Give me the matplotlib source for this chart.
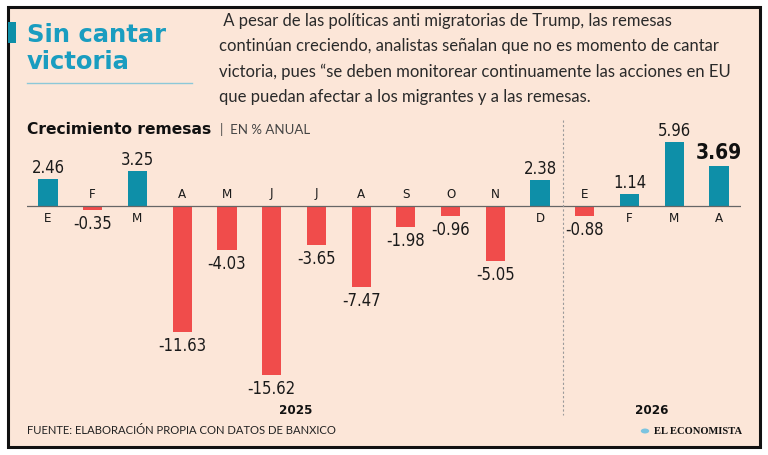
import matplotlib
matplotlib.use("Agg")
import matplotlib.pyplot as plt
from matplotlib.patches import Rectangle
from matplotlib.lines import Line2D
from matplotlib import font_manager

months = ["E", "F", "M", "A", "M", "J", "J", "A", "S", "O", "N", "D",
          "E", "F", "M", "A"]
values = [2.46, -0.35, 3.25, -11.63, -4.03, -15.62, -3.65, -7.47, -1.98,
          -0.96, -5.05, 2.38, -0.88, 1.14, 5.96, 3.69]
years = ["2025", "2026"]

W, H = 768, 455
BG = "#FCE6D8"
TEAL = "#0E8FA8"
RED = "#F04C4B"
TITLE = "#1A9DC0"

# pick a condensed font if one is installed
_narrow_file = None
_narrow_bold_file = None
for f in font_manager.fontManager.ttflist:
    nm = (f.name + " " + f.fname).lower()
    if ("condensed" in nm or "narrow" in nm) and "oblique" not in nm \
            and "italic" not in nm:
        if f.weight in (700, "bold") or "bold" in f.fname.lower():
            if _narrow_bold_file is None:
                _narrow_bold_file = f.fname
        elif _narrow_file is None:
            _narrow_file = f.fname
if _narrow_file:
    NP = font_manager.FontProperties(fname=_narrow_file)
else:
    NP = font_manager.FontProperties(family="DejaVu Sans")
if _narrow_bold_file:
    NPB = font_manager.FontProperties(fname=_narrow_bold_file)
else:
    NPB = font_manager.FontProperties(family="DejaVu Sans", weight="bold")

fig = plt.figure(figsize=(W / 100, H / 100), dpi=100)
fig.patch.set_facecolor("white")


def fx(px):
    return px / W


def fy(py):
    return 1 - py / H


def np_(size, bold=False):
    p = (NPB if bold else NP).copy()
    p.set_size(size)
    return p


# background box
fig.patches.append(Rectangle((fx(8), fy(447)), fx(752), 440 / H,
                             transform=fig.transFigure, facecolor=BG,
                             edgecolor="#111111", linewidth=2.2, zorder=-5))

# title marker + title
fig.patches.append(Rectangle((fx(8), fy(43)), fx(8), 21 / H,
                             transform=fig.transFigure, facecolor=TEAL,
                             edgecolor="none", zorder=1))
fig.text(fx(27), fy(35), "Sin cantar", fontsize=17.5, fontweight="bold",
         color=TITLE, family="DejaVu Sans", va="center", ha="left")
fig.text(fx(27), fy(62), "victoria", fontsize=17.5, fontweight="bold",
         color=TITLE, family="DejaVu Sans", va="center", ha="left")
fig.lines.append(Line2D([fx(27), fx(192)], [fy(83), fy(83)],
                        transform=fig.transFigure, color="#8CC8D8", lw=1))

para = [" A pesar de las políticas anti migratorias de Trump, las remesas",
        "continúan creciendo, analistas señalan que no es momento de cantar",
        "victoria, pues “se deben monitorear continuamente las acciones en EU",
        "que puedan afectar a los migrantes y a las remesas."]
for i, line in enumerate(para):
    fig.text(fx(219), fy(21 + i * 25.3), line, fontsize=12,
             color="#2a2a2a", family="Lato",
             va="center", ha="left")

fig.text(fx(27), fy(130), "Crecimiento remesas", fontsize=11.2,
         fontweight="bold", color="#111111", family="DejaVu Sans",
         va="center", ha="left")
fig.text(fx(220), fy(130), "|  EN % ANUAL", fontsize=9.5, color="#444444",
         family="Lato", va="center", ha="left")

# chart axes
xl, xr = -0.47, 15.5
sp = (719 - 48) / 15.0
left_px = 48 + xl * sp
right_px = 48 + xr * sp
scale = 10.8
base = 206
ytop, ybot = 8, -19
top_px = base - ytop * scale
bot_px = base - ybot * scale
ax = fig.add_axes([fx(left_px), fy(bot_px), fx(right_px - left_px),
                   (bot_px - top_px) / H])
ax.set_xlim(xl, xr)
ax.set_ylim(ybot, ytop)
ax.axis("off")
ax.patch.set_alpha(0)

x = list(range(len(values)))
colors = [TEAL if v >= 0 else RED for v in values]
ax.bar(x, values, width=0.43, color=colors, zorder=2)
ax.axhline(0, color="#666666", lw=0.9, zorder=3)

for i, (m, v) in enumerate(zip(months, values)):
    if v >= 0:
        ax.annotate(m, (i, 0), xytext=(0, -13), textcoords="offset pixels",
                    ha="center", va="center", fontproperties=np_(9.5),
                    color="#1a1a1a")
        if i == len(values) - 1:
            ax.annotate(f"{v:.2f}", (i, v), xytext=(0, 13),
                        textcoords="offset pixels", ha="center",
                        va="center", fontproperties=np_(15, True),
                        color="#111111")
        else:
            ax.annotate(f"{v:.2f}", (i, v), xytext=(0, 11),
                        textcoords="offset pixels", ha="center",
                        va="center", fontproperties=np_(12),
                        color="#1a1a1a")
    else:
        ax.annotate(m, (i, 0), xytext=(0, 12), textcoords="offset pixels",
                    ha="center", va="center", fontproperties=np_(9.5),
                    color="#1a1a1a")
        ax.annotate(f"{v:.2f}", (i, v), xytext=(0, -14),
                    textcoords="offset pixels", ha="center", va="center",
                    fontproperties=np_(12), color="#1a1a1a")

# separator between years
fig.lines.append(Line2D([fx(563), fx(563)], [fy(120), fy(415)],
                        transform=fig.transFigure, color="#9a9a9a",
                        lw=0.8, ls=(0, (2, 2))))

fig.text(fx(296), fy(411), years[0], fontproperties=np_(9.5, True),
         color="#111111", ha="center", va="center")
fig.text(fx(652), fy(411), years[1], fontproperties=np_(9.5, True),
         color="#111111", ha="center", va="center")

fig.text(fx(27), fy(431), "FUENTE: ELABORACIÓN PROPIA CON DATOS DE BANXICO",
         fontsize=8.15, family="Lato", color="#222222", ha="left",
         va="center")
fig.text(fx(742), fy(431), "EL ECONOMISTA", fontsize=7.6, fontweight="bold",
         family="Liberation Serif", color="#111111", ha="right",
         va="center")
fig.patches.append(plt.Circle((fx(645), fy(431)), 4.2 / W,
                              transform=fig.transFigure,
                              facecolor="#7CC4E0", edgecolor="none"))

fig.savefig("out.png", dpi=100, facecolor="white")
